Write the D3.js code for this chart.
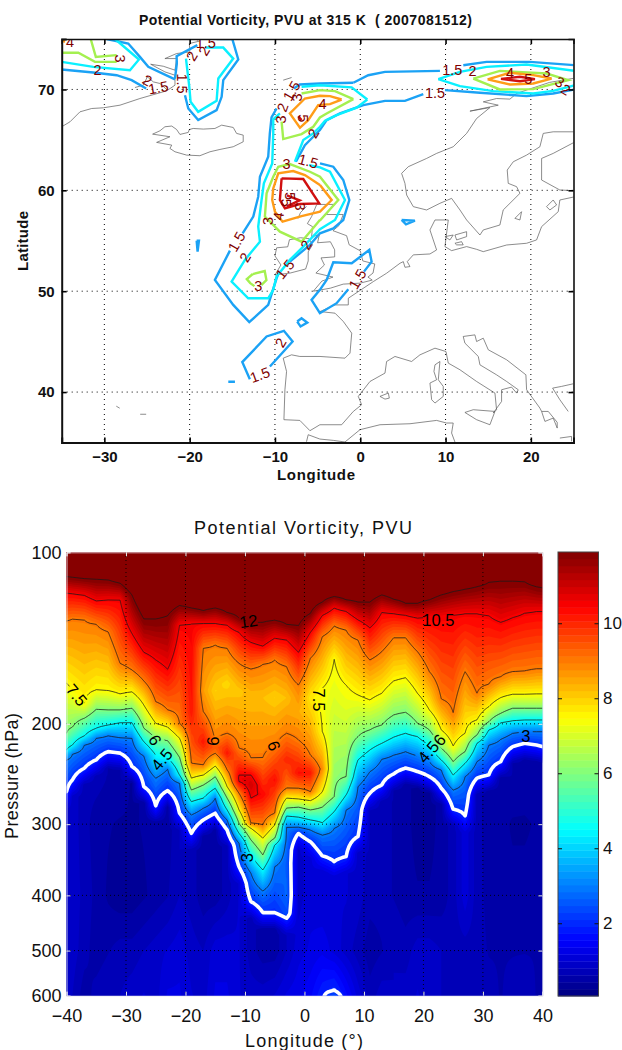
<!DOCTYPE html>
<html><head><meta charset="utf-8">
<script src="https://cdn.jsdelivr.net/npm/d3@7"></script>
<style>html,body{margin:0;padding:0;background:#fff}svg{display:block}text{font-family:"Liberation Sans",Arial,sans-serif}</style>
</head><body><svg id="c" width="622" height="1050"></svg>
<script>
// ---------- upper panel: PV contours at 315 K, [lon, lat] ----------
const mapTitle = "Potential Vorticity, PVU at 315 K  ( 2007081512)";
const lonTicksMap = [-30,-20,-10,0,10,20];
const latTicksMap = [40,50,60,70];
const pv15 = [
 [[-35,71.97],[-31.3,71.68],[-28.56,71.41],[-26.8,70.92],[-25.1,70.1]],
 [[-29.73,75],[-27.2,74.55],[-25.83,73.23],[-24.85,72.24],[-21.72,70.99]],
 [[-20.55,69.43],[-20.16,68.11],[-19,66.96],[-16.84,67.95],[-16.25,69.27],[-16.06,70.92],[-14.3,72.97],[-15,75],[-16.84,75]],
 [[-21.72,71.08],[-21.5,72.57],[-21.53,73.3],[-19.1,74.39]],
 [[-0.81,70.66],[-4.73,70.59],[-7.08,70.49],[-7.78,70.1]],
 [[-0.81,70.66],[0.94,71.41],[2.9,71.74],[9.34,71.84]],
 [[12.08,72.4],[14.81,72.73],[19.89,72.73],[25.16,72.4]],
 [[9.93,69.93],[14.03,69.67],[19.5,69.34],[22.62,69.6],[25.16,70]],
 [[-9.81,68.11],[-10.4,67.22],[-10.6,65.64],[-10.79,63.33],[-11.76,61.35],[-11.96,59.37],[-12.54,57.39],[-13.79,55.74]],
 [[-15.28,54.02],[-17.04,51.12],[-14.89,48.64],[-13.01,46.93],[-10.79,48.64],[-9.81,51.28],[-9.5,51.94]],
 [[-8.25,52.93],[-5.9,54.59],[-4.72,55.74],[-3.16,56.23],[-1.99,57.06],[-1.28,59.04],[-1.99,61.02],[-3.16,62.34],[-4.72,62.67]],
 [[-7.54,62.83],[-6.49,64.48],[-5.51,65.31],[-4.73,65.97],[-3.94,66.96],[-2.38,67.62],[0.36,68.44],[2.9,68.87],[5.24,68.87],[7.39,69.53]],
 [[0.44,51.94],[1.33,52.93],[1.06,54.09],[-1,52.77],[-3.16,52.87],[-3.94,51.12],[-4.73,50.13],[-5.71,49.14],[-4.73,47.82],[-2.77,48.81],[-1.4,50.2]],
 [[-19.18,55.01],[-18.91,55.01],[-19.07,53.92],[-19.18,55.01]],
 [[-7.39,46.99],[-6.88,47.32],[-6.21,46.89],[-7,46.5],[-7.39,46.99]],
 [[-12.94,41.28],[-13.83,42.97],[-10.98,45.51],[-8.95,46.07],[-7.93,45.01],[-10.59,42.54]],
 [[-15.47,41.02],[-14.69,41.02]],
 [[4.85,57.06],[6.41,56.99],[5.36,56.63],[4.85,57.06]]
];
const pv2 = [
 [[-35,72.73],[-31.3,72.24],[-27,71.91],[-25.94,72.97],[-28.75,75]],
 [[-20.43,73.06],[-20.04,70.26],[-19.89,68.77],[-19,67.78],[-16.84,68.87],[-16.64,71.08],[-14.89,73.06],[-16.06,74.15],[-18.2,74.15]],
 [[0.83,69],[-1.01,70.2],[-4.73,70.42],[-6.88,70.26]],
 [[0.83,69],[-0.42,68.2],[-2.77,67.45],[-4.13,66.89],[-4.72,66.3],[-5.51,65.64],[-6.68,64.98],[-7.66,62.83]],
 [[-9.42,67.62],[-10.2,67.03],[-10.2,65.64],[-10.32,62.67],[-11.3,60.69],[-11.57,59.04],[-11.96,56.4],[-11.76,54.91],[-13.52,53.1],[-15.08,50.95],[-13.13,49.3],[-10.79,49.3],[-10.2,50.13],[-9.81,51.45],[-8.25,53.1],[-6.68,54.42],[-4.72,56.14],[-2.96,57.06],[-1.79,59.04],[-3.55,61.84],[-4.72,62.27],[-6,62.5]],
 [[9.15,71.02],[11.69,71.74],[14.81,72.24],[19.5,72.47],[25.16,71.84]],
 [[9.15,71.02],[11.69,70.33],[15.59,69.83],[20.28,69.6],[22.62,69.86],[25.16,70.42]]
];
const pv3 = [
 [[-35,73.63],[-33.05,73.63],[-31.1,72.73],[-28.56,72.73]],
 [[-28.56,73.4],[-31,73.23],[-31.6,75]],
 [[-4.72,57],[-2.57,59.04],[-4.72,61.35],[-5.9,61.84],[-8.25,62.6],[-9.61,62.34],[-10.2,61.35],[-10.98,59.7],[-11.18,57.39],[-9.42,55.9],[-6.88,54.91],[-5.71,56.07],[-4.73,57.06]],
 [[-0.81,69.04],[-2.96,69.83],[-4.72,69.93],[-6.88,69.6]],
 [[-9.22,66.8],[-9.03,65.08],[-6.88,65.57],[-5.51,66.3],[-4.73,67.22],[-3.94,67.62],[-0.81,69.04]],
 [[-12.6,51.7],[-13.3,51.2],[-12.9,50.8],[-12.4,50.5]],
 [[-11.6,50.6],[-11,51.1],[-11.2,52],[-12.6,51.7]],
 [[13.25,71.08],[16.37,71.84],[21.84,71.58],[24.38,70.92],[20.28,70.03],[16.37,70],[13.25,71.08]]
];
const pv4 = [
 [[-35,74.8],[-34.6,74.75]],
 [[-4.72,60.52],[-3.35,59.04],[-4.72,57.88],[-6.88,57.45],[-9.11,56.89],[-10,57.88],[-10.32,59.04],[-10.2,60.19],[-9.61,61.68],[-7.86,61.91],[-6.49,61.51],[-4.73,60.52]],
 [[-2.18,69],[-3.55,69.34],[-4.72,69.37],[-6.49,69.1],[-8.25,67.62],[-7.07,66.2],[-6.1,66.96],[-4.93,68.44],[-3.55,68.54],[-2.18,69]],
 [[14.93,70.99],[17.55,71.65],[20.28,71.42],[22.43,71.08],[20.28,70.59],[17.55,70.49],[14.93,70.99]]
];
const pv5 = [
 [[-9.22,61.18],[-6.68,61.12],[-4.81,58.71],[-7.08,58.64],[-8.83,58.22],[-9.42,59.04],[-9.22,61.18]],
 [[-8.6,59.5],[-7.1,59],[-8.6,58.4]],
 [[-7.27,67.35],[-6.88,66.96]],
 [[16.49,71.05],[18.72,71.25],[20.48,71.02],[18.72,70.82],[16.49,71.05]]
];
const mapLabels = [
 ["4",-34.03,74.71,0],["3",-28.17,73.06,90],["2",-30.8,71.97,0],["2",-24.97,70.92,30],["1.5",-23.68,70.19,-10],
 ["1.5",-20.82,70.59,90],["2",-19.77,73.3,-60],["2",-18.33,73.82,-60],["1.5",-18.1,74.62,0],["1.5",-8.05,69.86,-60],
 ["3",-7.39,69.2,-90],["2",-9.11,68.21,-70],["3",-9.34,67.03,-90],["5",-6.68,67.13,90],["2",-5.51,65.64,-60],
 ["1.5",-6.1,62.9,15],["3",-8.64,62.67,0],["3",-10.9,56.96,-90],["4",-9.61,57.45,-80],["1.5",-14.5,54.91,-60],
 ["5",-8.25,59.43,90],["5",-8.64,58.77,90],["3",-7,58.38,90],
 ["1.5",10.79,71.98,0],["2",13.17,71.84,0],["4",17.55,71.65,0],["5",19.69,71.08,0],["3",21.84,71.74,0],["3",23.4,70.75,30],["2",24.11,70,30],
 ["1.5",8.76,69.7,0],["4",-4.41,68.54,0],["2",-13.52,53.36,-60],["3",-11.96,50.53,0],["1.5",-8.83,52.18,-50],["2",-6.37,54.58,-60],
 ["2",-9.34,44.91,-60],["1.5",-11.76,41.71,-20],["1.5",-0.34,51.19,-60]
];
// ---------- coastlines [lon, lat] ----------
const coast = [
 [[-24.34,65.57],[-23.48,65.9],[-22.9,66.3],[-22.1,66.37],[-21.53,66.03],[-21.14,65.54],[-20.16,65.74],[-20.04,66.03],[-19.58,66.13],[-18.4,66.07],[-17.04,66.13],[-16.25,66.46],[-14.89,66.23],[-14.5,65.64],[-13.72,65.47],[-13.72,64.81],[-14.89,64.32],[-16.45,64.05],[-17.62,63.82],[-18.8,63.43],[-20.36,63.49],[-21.72,63.82],[-22.31,64.15],[-22.1,64.48],[-23.87,64.75],[-22.31,65.31],[-24.34,65.57]],
 [[-35,66.3],[-34.03,66.79],[-32.86,67.78],[-31.49,68.11],[-30.12,68.18],[-28.17,68.44],[-25.83,69.1],[-22.7,69.86],[-21.72,70.42],[-21.72,71.41],[-22.9,71.74],[-24.57,72.5],[-23.09,72.3],[-21.72,71.91],[-21.53,73.06],[-22.9,73.06],[-21.53,73.56],[-19.97,73.72],[-20.04,74.55],[-18.8,74.8]],
 [[-26.41,70.19],[-25.43,70.42],[-24.96,71.25],[-24.26,70.75],[-23.48,70.59],[-22.7,70]],
 [[-9.03,70.92],[-8.05,71.18]],
 [[25,71.1],[22.2,70.7],[19.7,70],[18.33,69.6],[17.55,69.04],[15.98,69.1],[14.42,68.77],[16.18,68.44],[12.86,67.85],[15.2,68.2],[13.64,67.12],[12.47,65.64],[10.9,64.32],[8.95,63.66],[7.78,63.16],[5.63,62.34],[4.85,61.68],[5.24,60.69],[5.44,59.53],[6.22,58.38],[7.78,58.05],[9.34,58.71],[10.71,59.2],[11.69,58.05],[12.47,57.06],[14.03,55.57],[14.42,56.07],[16.37,56.56],[16.76,58.05],[18.72,59.7],[18.33,60.36],[17.35,60.69],[17.23,62.01],[17.94,62.83],[19.5,63.49],[21.06,64.32],[21.45,65.64],[22.62,65.8],[25.2,65.8]],
 [[25.2,64.81],[22.62,63.66],[21.26,63.16],[21.26,61.02],[23.4,60.03],[25.2,59.96]],
 [[25.2,59.37],[23.4,59.04],[23.21,57.88],[21.26,56.4],[20.67,55.08],[19.5,54.75],[17.16,54.58],[14.42,53.92],[13.64,54.15],[12.47,54.42],[10.71,54.02],[9.93,54.42],[10.05,55.24],[10.32,57.06],[8.76,57.06],[8.17,56.07],[8.56,55.08],[8.95,54.09],[8.17,53.69],[6.22,53.6],[5.51,52.93],[5.83,52.44],[5.24,52.37],[5.05,52.93],[4.66,52.77],[3.09,51.78],[1.53,50.95],[-1.4,49.3],[-1.4,48.64],[-2.96,48.64],[-4.72,47.98],[-2.96,47.82],[-1.99,47],[-1,45.84],[-1.2,43.86],[-1.79,43.36],[-4.72,43.53],[-7.08,43.53],[-8.05,43.69],[-9.03,43.36],[-8.64,42.04],[-8.83,40.23],[-8.95,37.26],[-7.08,37.19],[-5.9,36.17],[-4.73,36.76],[-2.18,36.76],[-0.81,38.08],[0.16,38.74],[-0.23,39.57],[1.14,41.05],[2.9,41.88],[3.09,43.03],[4.07,43.53],[6.02,43.03],[7,43.69],[8.76,44.35],[10.05,44.02],[10.32,42.87],[11.69,42.21],[13.64,41.05],[15.79,39.9],[15.98,38.25],[15.59,37.92],[16.57,39.07],[16.57,40.23],[17.74,40.49],[18.33,39.9],[18.52,40.23],[17.16,41.05],[15.98,41.71],[14.03,42.7],[13.84,43.53],[12.27,44.85],[12.07,45.51],[13.44,45.67],[13.64,45.01],[14.42,45.34],[15.01,44.19],[17.16,43.2],[19.42,41.71],[19.5,40.23],[21.06,38.41],[21.26,38.08],[22.04,38.08],[23.09,37],[23.09,36.43],[22.62,37.42],[21.65,37.09],[21.26,38.08]],
 [[24.38,38.08],[23.4,39.24],[22.55,40.39],[23.6,40.56],[24.97,40.82]],
 [[-4.72,35.34],[-3.16,35.21],[-1.79,35.05],[-0.03,36.27],[2.31,36.76],[5.83,36.86],[8.95,37.19],[10.12,36.93],[10.9,36.93],[10.71,35.94],[11.1,35.05]],
 [[-4.73,35.34],[-6.1,35.77],[-6.3,35.08]],
 [[12.27,37.98],[13.25,38.25],[15.79,38.08],[15.2,36.76],[13.64,37.26],[12.27,37.98]],
 [[8.76,42.7],[9.34,43.03],[9.15,41.22],[9.73,40.56],[9.73,39.57],[8.76,38.91],[8.37,39.24],[8.17,40.89],[8.95,41.22],[8.64,42.04],[8.76,42.7]],
 [[2.31,39.57],[3.29,39.9],[3.41,39.4],[2.9,39.3],[2.31,39.57]],
 [[23.4,35.44],[24.77,35.6],[24.77,35.11]],
 [[18.13,57.22],[18.91,57.88],[18.72,57.06],[18.13,57.22]],
 [[21.84,58.38],[22.62,59.04],[23.02,58.55],[22.23,58.05],[21.84,58.38]],
 [[9.93,55.41],[10.9,55.57],[10.51,55.08],[9.93,55.41]],
 [[11.1,55.57],[12.47,55.9],[12.47,55.41],[11.3,55.08],[11.1,55.57]],
 [[11.1,54.75],[11.88,54.91],[12.07,54.59],[11.3,54.59],[11.1,54.75]],
 [[-10,53.5],[-9.8,54.3],[-8.5,54.4],[-8.3,55.1],[-7,55.3],[-6,55.2],[-5.6,54.6],[-6.1,53.9],[-6.1,53],[-6.4,52.2],[-8.2,51.8],[-10,51.6],[-9.3,52.6],[-10,53.5]],
 [[-5.1,58.6],[-3.1,58.6],[-4,57.6],[-2,57.6],[-2.5,56.5],[-3.2,56],[-1.6,55.5],[-1.3,54.6],[0,54],[0.3,53],[1.7,52.7],[1.5,51.8],[0.9,51.4],[1.4,51.1],[0,50.8],[-2,50.7],[-3.5,50.3],[-5.5,50],[-4.5,51],[-3.2,51.4],[-5.2,51.8],[-4.2,52.6],[-4.6,53.3],[-3,53.4],[-3,54.1],[-3.5,54.9],[-5,54.8],[-4.8,55.6],[-5.7,55.4],[-5.6,56.4],[-6.2,56.7],[-5.7,57.4],[-5.1,58.6]],
 [[-7.3,57.2],[-7,57.8],[-6.3,58.4]],
 [[-28.6,38.6],[-28.2,38.4]],[[-25.8,37.8],[-25.1,37.8]]
];
// ---------- lower panel: pressure (hPa) where each PV isoline crosses each longitude ----------
const sectionTitle = "Potential Vorticity, PVU";
const lons = [-40,-39,-37,-35,-33,-31,-29,-27,-25,-23,-21,-19,-17,-15,-13,-11,-9,-7,-5,-3,-1,1,3,5,7,9,11,13,15,17,19,21,23,25,27,29,31,33,35,37,39,40];
const pvLevels = [12,10.5,9,7.5,6,4.5,3,2];
const p12 = [110.3,110.6,111.2,111.5,111.8,113.3,118.8,130.9,130.9,129.2,124,125.3,126.6,125.3,127.6,130.5,132.9,132.7,131.6,133.8,134.5,128,122.3,119.6,121.2,122.3,122.3,118.8,120.9,122.9,122.9,121.2,118.8,117.2,116.1,114.9,112.9,112.3,112.3,112.6,114.9,115.4];
const p105 = [117.9,118.2,119,121.7,121.2,121.2,138.8,149.8,154.5,160.4,134.2,133.3,133.3,133.3,134.2,138.2,143.9,146.1,141.5,142.5,149.8,138.2,129.1,125.3,127,131.4,135.7,127.5,128.1,129,130.4,129.9,129.9,129,128.1,128.1,129.2,132.7,130.2,127.9,127,127];
const p9 = [131.9,130.9,131.4,133.8,137.9,156.6,160.9,168.2,182.9,189.1,199.6,234.6,147.4,145.4,147.4,156.6,160.2,157.3,154.5,158.7,170.9,153.4,140.6,134.7,136.9,142.5,154.5,149.4,141.2,141.2,149.4,162,180.9,191.2,162,176.8,170.4,165.4,162,161.6,160.2,160.2];
const p75 = [169.8,174.4,184.1,174.4,174.9,177.3,175.8,185.4,199.6,202.7,212,249.1,246,237.2,257.8,283.2,305,317.4,301,270,271,272.8,263.1,154.1,171,178,181.6,176.8,168.2,166,176.8,189.1,205,218.8,207.8,196.9,186.6,179.9,177.5,177.5,177.3,177.3];
const p6 = [207.8,202.7,195.5,188.6,189.1,189.1,187.8,203.6,212,214.1,229,261.3,256.1,247.6,270.1,298.9,319.7,339.7,317.5,281.2,280,283.2,280,268.5,247.6,210.6,205,201,193,190.9,199.6,205,220.7,233,223.8,209.3,198.3,191.7,187.8,187.8,187.8,187.8];
const p45 = [222.3,217.9,210,203.6,201,199.1,199.1,215,226.9,229.8,246,273.9,270.1,259.5,283.2,311.2,339.7,360.9,326.3,290.2,291.6,294.9,298.2,285.2,266.6,231.4,222.3,216.4,211.1,207.8,210.6,217.9,231.4,246,234.6,216.4,205,199.1,197.5,196.9,196.9,196.9];
const p3 = [231.4,226,217.9,212,209.8,211.5,212,227.7,249.1,240.3,254.3,289,281.2,270.1,294.9,324,365.8,392.9,356.2,303.3,303.7,307.1,313.4,305,283.2,258,242.7,230.7,226.9,223.8,227.7,233,241,261.3,247.6,233,217.9,212.9,207.8,206.4,206.4,206.4];
const p2 = [263.1,250.9,239.3,231.4,223.8,225.2,237.7,257.9,278.7,262,287,311.3,294.9,287,307.1,356.2,410.2,428.9,428.9,438.7,311.3,322,341.1,349,342,315.4,264.8,256.1,244.9,239.2,242.6,247.6,259.5,282.4,290.2,249.1,245.9,233,219.3,216.4,217.9,219.3];
const isoByLevel = [p12,p105,p9,p75,p6,p45,p3,p2];
// extra [hPa, PV] read where a column crosses an isoline more than once
const extraPoints = {
 "-19":[[190,10.2]],
 "-17":[[175,8.6],[190.4,9],[215,10.2],[236.2,9]],
 "-15":[[175,8],[215,9],[220,9.4],[225.3,9]],
 "-13":[[170,7.9],[207.8,9],[225,10.2],[241,9]],
 "-11":[[175,8.1],[220.7,9],[245.9,10.5],[249,10.6],[252.7,10.5],[264.8,9]],
 "-9":[[180,8.2],[229.8,9],[245.9,10.5],[256,11],[270.1,10.5],[298.9,9]],
 "-7":[[180,8.2],[229.2,9],[266,10.4],[301,9]],
 "-5":[[180,8],[218.8,9],[251,10.3],[287,9]],
 "-3":[[180,8.2],[207.8,9],[231,10],[259.5,9],[351,2.6],[400,2.7],[430,2.4]],
 "-1":[[190,8.4],[213.5,9],[244,10.3],[259.5,9]],
 "1":[[180,7.7],[226.9,9],[244,10.2],[263.1,9]],
 "3":[[173.2,7.5],[190,7.4],[206.4,7.5],[240,8.8]],
 "5":[[587,2]]
};
// PV in the troposphere, below the 2 PVU line
const deepP = [250,300,400,500,600];
const deep250 = [.8,.8,.8,.7,.6,.6,.8,.8,.8,.8,.8,.8,.8,.8,.8,.8,.8,.8,.8,.8,.8,.8,.8,.8,.8,.8,.8,.7,.7,.6,.6,.6,.7,.8,.9,.7,.7,.7,.6,.55,.55,.55];
const deep300 = [1,.9,.7,.5,.45,.4,.4,.45,.6,.5,.7,.9,.8,.9,.9,1,1,1,1,2.9,1.6,1.5,1.5,1.5,1.5,1.2,.8,.7,.6,.5,.35,.35,.5,.9,1.5,.7,.5,.5,.4,.4,.45,.5];
const deep400 = [1,.9,.75,.55,.4,.3,.3,.4,.5,.6,.8,.7,.5,.5,.7,1,1.2,1.5,1.5,2.1,.9,1.1,1,1,1,.9,.7,.7,.6,.5,.45,.45,.5,.7,1.1,.7,.55,.5,.5,.5,.5,.5];
const deep500 = [.9,.9,.7,.5,.6,.7,.7,.8,.9,1,1.1,.9,.8,1.1,1.1,1,.7,.5,.5,.8,1.1,1.2,1.3,1.1,.9,.7,.5,.6,.8,.7,.9,.9,.8,.7,.7,.7,.6,.6,.6,.6,.6,.6];
const deep600 = [.9,.8,.5,.7,.8,.8,.9,1,.9,1.2,1.2,1,.9,1.2,1.2,1,.9,.9,1,1.2,1.3,1.5,1.9,2.5,1.6,1.1,.7,.9,.8,.9,1,.9,.8,.7,.7,.7,.7,.6,.7,.8,.6,.6];
const deepTable = [deep250,deep300,deep400,deep500,deep600];
const topPV = 15;
const sectionLonTicks = [-40,-30,-20,-10,0,10,20,30,40];
const sectionPTicks = [100,200,300,400,500,600];
const colorTicks = [2,4,6,8,10];
const cmin = 0.06, cmax = 11.9, nColors = 64;
const isoLines = [12,10.5,9,7.5,6,4.5,3];
const sectionLabels = [
 ["12",-9.4,132,-8,16],["10.5",22.5,131.4,0,28],["7.5",-38.3,178,50,20],["6",-25.1,213.5,60,10],["4.5",-24,231,-50,20],
 ["9",-15.3,214.4,90,9],["9",-5.2,218.8,-110,10],["7.5",2.5,181.6,90,22],["4.5",20.8,224,-50,20],["6",22.7,213.5,-50,8],
 ["3",37.2,209.7,0,12],["3",-9.6,343.5,-90,9]
];

const svg = d3.select("#c");
const font = "'Liberation Sans',Arial,sans-serif";

// ================= upper map ==================
const mx = d3.scaleLinear().domain([-35,25]).range([61.7,573.5]);
const my = d3.scaleLinear().domain([35,75]).range([442.5,39]);
const line = d3.line().x(d=>mx(d[0])).y(d=>my(d[1]));
svg.append("defs").append("clipPath").attr("id","mclip").append("rect")
  .attr("x",61.7).attr("y",39).attr("width",511.8).attr("height",403.5);
const mg = svg.append("g").attr("clip-path","url(#mclip)");
mg.selectAll(".coast").data(coast).join("path").attr("d",line).attr("fill","none").attr("stroke","#5a5a5a").attr("stroke-width",.7);
lonTicksMap.forEach(v=>mg.append("line").attr("x1",mx(v)).attr("x2",mx(v)).attr("y1",39).attr("y2",442.5).attr("stroke","#000").attr("stroke-width",1).attr("stroke-dasharray","1 4"));
latTicksMap.forEach(v=>mg.append("line").attr("y1",my(v)).attr("y2",my(v)).attr("x1",61.7).attr("x2",573.5).attr("stroke","#000").attr("stroke-width",1).attr("stroke-dasharray","1 4"));
[[pv15,"#1ba2f5"],[pv2,"#0af0ff"],[pv3,"#a4f050"],[pv4,"#ff9c18"],[pv5,"#d01010"]].forEach(([set,col])=>{
  mg.selectAll(null).data(set).join("path").attr("d",line).attr("fill","none").attr("stroke",col).attr("stroke-width",2.4).attr("stroke-linejoin","miter");
});
mg.selectAll(".ml").data(mapLabels).join("text")
  .attr("transform",d=>`translate(${mx(d[1])},${my(d[2])}) rotate(${d[3]})`)
  .attr("text-anchor","middle").attr("dy","0.36em").attr("font-size",14.5).attr("fill","#7f0000").text(d=>d[0]);
// axes
const fmtMinus = d=>String(d).replace("-","\u2212");
const axB = svg.append("g").attr("transform","translate(0,442.5)").call(d3.axisBottom(mx).tickValues(lonTicksMap).tickSize(-5).tickPadding(9).tickFormat(fmtMinus));
const axT = svg.append("g").attr("transform","translate(0,39)").call(d3.axisTop(mx).tickValues(lonTicksMap).tickSize(-5).tickFormat(""));
const axL = svg.append("g").attr("transform","translate(61.7,0)").call(d3.axisLeft(my).tickValues(latTicksMap).tickSize(-5).tickPadding(7));
const axR = svg.append("g").attr("transform","translate(573.5,0)").call(d3.axisRight(my).tickValues(latTicksMap).tickSize(-5).tickFormat(""));
[axB,axT,axL,axR].forEach(a=>{a.selectAll(".domain").attr("stroke-width",axB===a||axL===a?2:1.6).attr("stroke","#111");
  a.selectAll(".tick line").attr("stroke","#000").attr("stroke-width",1.6);
  a.selectAll("text").attr("font-size",15).attr("font-weight","bold").attr("font-family",font).attr("fill","#111");});
svg.append("text").attr("x",305.5).attr("y",25).attr("text-anchor","middle").attr("font-size",14).attr("font-weight","bold").attr("fill","#111").attr("textLength",333).attr("lengthAdjust","spacing").attr("xml:space","preserve").text(mapTitle);
svg.append("text").attr("x",316).attr("y",480).attr("text-anchor","middle").attr("font-size",15).attr("font-weight","bold").attr("fill","#111").attr("textLength",78).text("Longitude");
svg.append("text").attr("transform","translate(28,241) rotate(-90)").attr("text-anchor","middle").attr("font-size",15).attr("font-weight","bold").attr("fill","#111").attr("textLength",60).text("Latitude");

// ================= lower section ==================
const sx = d3.scaleLinear().domain([-40,40]).range([66.5,542.4]);
const sy = d3.scaleLog().domain([100,600]).range([552.3,995.7]);
const jet = t=>{const c=v=>Math.round(255*Math.max(0,Math.min(1,v)));
  return `rgb(${c(1.5-Math.abs(4*t-3))},${c(1.5-Math.abs(4*t-2))},${c(1.5-Math.abs(4*t-1))})`;};
const bandColor = i=>jet((i+.5)/nColors);
const step = (cmax-cmin)/nColors;

// one PV profile per longitude, from the values above
const profiles = lons.map((lon,c)=>{
  const pts=[[100,topPV]];
  pvLevels.forEach((v,k)=>pts.push([isoByLevel[k][c],v]));
  (extraPoints[String(lon)]||[]).forEach(d=>pts.push(d));
  const below = deepP.map((p,k)=>[p,deepTable[k][c]]).filter(d=>d[0]>p2[c]*1.08 && !(lon===5&&d[0]===600));
  // the blue deepens within a few pixels under the white 2 PVU line
  if(below.length) pts.push([p2[c]*1.07,below[0][1]]);
  below.forEach(d=>pts.push(d));
  if(lon===5) pts.push([600,deep600[c]]);
  pts.sort((a,b)=>a[0]-b[0]);
  return d3.scaleLog().domain(pts.map(d=>d[0])).range(pts.map(d=>d[1]));
});
const nRows = 444, nCols = lons.length;
const rowP = j=>sy.invert(552.3+443.4*j/(nRows-1));
const values = new Float64Array(nRows*nCols);
for(let j=0;j<nRows;j++){const p=rowP(j);for(let c=0;c<nCols;c++)values[j*nCols+c]=profiles[c](p);}

const colX = d3.scaleLinear().domain(lons.map((_,i)=>i+.5)).range(lons);
const gridX = x=> x<.5 ? sx(-46) : x>nCols-.5 ? sx(46) : sx(colX(x));
const gridY = y=> y<.5 ? sy(100)-12 : y>nRows-.5 ? sy(600)+12 : sy(rowP(y-.5));
const gp = d3.geoPath(d3.geoTransform({point(x,y){this.stream.point(gridX(x),gridY(y));}}));
const defs = svg.select("defs");
defs.append("clipPath").attr("id","sclip").append("rect").attr("x",66.5).attr("y",552.3).attr("width",475.9).attr("height",443.4);
const sg = svg.append("g").attr("clip-path","url(#sclip)");
sg.append("rect").attr("x",66.5).attr("y",552.3).attr("width",475.9).attr("height",443.4).attr("fill",bandColor(0));
const bandThr = d3.range(1,nColors).map(i=>cmin+i*step);
const contourGen = d3.contours().size([nCols,nRows]).smooth(true);
contourGen.thresholds(bandThr)(values).forEach((g,i)=>{
  sg.append("path").attr("d",gp(g)).attr("fill",bandColor(i+1));
});
// gaps in isolines under their labels
const mask = defs.append("mask").attr("id","lmask").attr("maskUnits","userSpaceOnUse").attr("x",0).attr("y",540).attr("width",622).attr("height",470);
mask.append("rect").attr("x",0).attr("y",540).attr("width",622).attr("height",470).attr("fill","#fff");
sectionLabels.forEach(d=>mask.append("rect").attr("x",-d[4]/2-1).attr("y",-8).attr("width",d[4]+2).attr("height",16).attr("fill","#000")
  .attr("transform",`translate(${sx(d[1])},${sy(d[2])}) rotate(${d[3]})`));
// dotted grid
sectionLonTicks.slice(1,-1).forEach(v=>sg.append("line").attr("x1",sx(v)).attr("x2",sx(v)).attr("y1",552).attr("y2",996).attr("stroke","#000").attr("stroke-width",.9).attr("stroke-dasharray","1 3"));
sectionPTicks.slice(1,-1).forEach(v=>sg.append("line").attr("y1",sy(v)).attr("y2",sy(v)).attr("x1",66).attr("x2",543).attr("stroke","#000").attr("stroke-width",.9).attr("stroke-dasharray","1 3"));
const isoG = sg.append("g").attr("mask","url(#lmask)");
contourGen.thresholds(isoLines)(values).forEach(g=>{
  isoG.append("path").attr("d",gp(g)).attr("fill","none").attr("stroke","#1a1a1a").attr("stroke-width",.75);
});
contourGen.thresholds([2])(values).forEach(g=>{
  sg.append("path").attr("d",gp(g)).attr("fill","none").attr("stroke","#fff").attr("stroke-width",3.6).attr("stroke-linejoin","round");
});
sg.selectAll(".sl").data(sectionLabels).join("text")
  .attr("transform",d=>`translate(${sx(d[1])},${sy(d[2])}) rotate(${d[3]})`)
  .attr("text-anchor","middle").attr("dy","0.36em").attr("font-size",16.5).attr("fill","#000").text(d=>d[0]);
// section axes
const sB = svg.append("g").attr("transform","translate(0,995.7)").call(d3.axisBottom(sx).tickValues(sectionLonTicks).tickSize(-4).tickPadding(14));
const sT = svg.append("g").attr("transform","translate(0,552.3)").call(d3.axisTop(sx).tickValues(sectionLonTicks).tickSize(-4).tickFormat(""));
const sL = svg.append("g").attr("transform","translate(66.5,0)").call(d3.axisLeft(sy).tickValues(sectionPTicks).tickFormat(d3.format("d")).tickSize(-4).tickPadding(5));
const sR = svg.append("g").attr("transform","translate(542.4,0)").call(d3.axisRight(sy).tickValues(sectionPTicks).tickFormat("").tickSize(-4));
[sB,sT,sL,sR].forEach(a=>{a.selectAll(".domain").attr("stroke","#e8e8f4").attr("stroke-width",.8);
  a.selectAll(".tick line").attr("stroke","#e6e6e6").attr("stroke-width",1);
  a.selectAll("text").attr("font-size",18).attr("font-family",font).attr("fill","#111");});
svg.append("text").attr("x",303).attr("y",534).attr("text-anchor","middle").attr("font-size",18).attr("fill","#111").attr("textLength",218).text(sectionTitle);
svg.append("text").attr("x",304).attr("y",1047).attr("text-anchor","middle").attr("font-size",18).attr("fill","#111").attr("textLength",118).text("Longitude (\u00b0)");
svg.append("text").attr("transform","translate(18,776) rotate(-90)").attr("text-anchor","middle").attr("font-size",18).attr("fill","#111").attr("textLength",126).text("Pressure (hPa)");

// ================= colour bar ==================
const cy = d3.scaleLinear().domain([cmin,cmax]).range([996,552]);
svg.selectAll(".cb").data(d3.range(nColors)).join("rect")
  .attr("x",558).attr("width",40.5).attr("y",i=>cy(cmin+(i+1)*step)).attr("height",i=>cy(cmin+i*step)-cy(cmin+(i+1)*step)+.4).attr("fill",bandColor);
svg.append("rect").attr("x",558).attr("y",552).attr("width",40.5).attr("height",444).attr("fill","none").attr("stroke","#444").attr("stroke-width",1);
const cR = svg.append("g").attr("transform","translate(598.5,0)").call(d3.axisRight(cy).tickValues(colorTicks).tickSize(-4).tickPadding(4.5).tickFormat(d3.format("d")));
cR.select(".domain").remove();
cR.selectAll("text").attr("font-size",17).attr("font-family",font).attr("fill","#111");
cR.selectAll(".tick line").attr("stroke","#111");
const cL = svg.append("g").attr("transform","translate(558,0)").call(d3.axisLeft(cy).tickValues(colorTicks).tickSize(-4).tickFormat(""));
cL.select(".domain").remove();
cL.selectAll(".tick line").attr("stroke","#111");
</script></body></html>
